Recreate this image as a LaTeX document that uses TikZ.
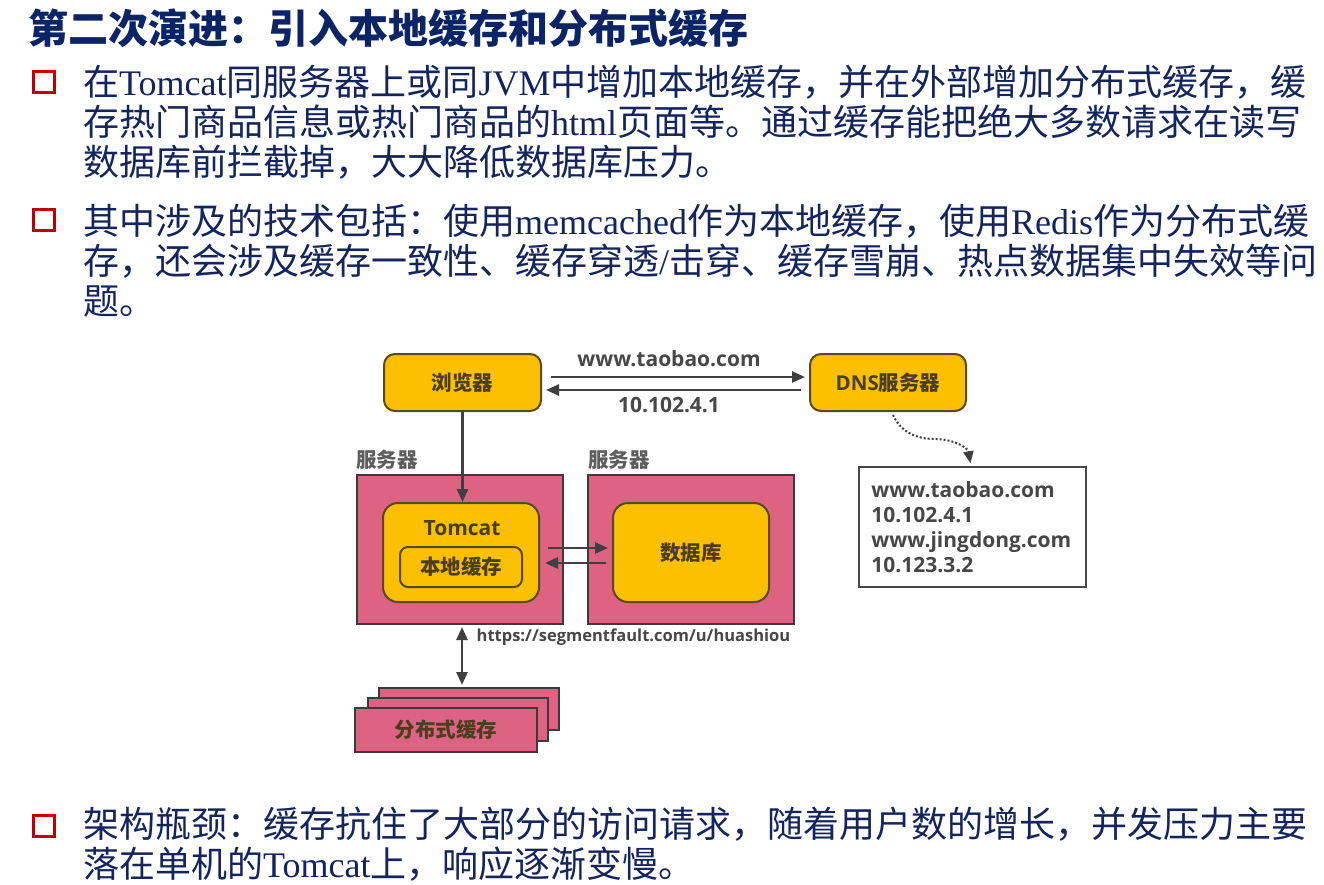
\documentclass[tikz,border=0pt]{standalone}
\usepackage{fontspec}
\setmainfont{Noto Sans CJK SC}
\newfontfamily\lat{Liberation Serif}
\newfontfamily\dsans{Open Sans}
\newcommand\lt[1]{{\lat #1}}
\usetikzlibrary{arrows.meta,calc}
\definecolor{navy}{HTML}{14245E}
\definecolor{titlec}{HTML}{0B2466}
\definecolor{bred}{HTML}{C00000}
\definecolor{amber}{HTML}{FBC002}
\definecolor{amberln}{HTML}{5A4820}
\definecolor{rose}{HTML}{DE6282}
\definecolor{roseln}{HTML}{3B3B3B}
\definecolor{dtext}{HTML}{474747}
\definecolor{btext}{HTML}{4B3D1E}
\definecolor{arr}{HTML}{404040}
\definecolor{slabel}{HTML}{5E5E5E}
\tikzset{
  body/.style={anchor=base west, inner sep=0pt, text=navy, font=\fontsize{36}{40}\selectfont},
  bulletbox/.style={draw=bred, line width=3pt, minimum size=21pt, inner sep=0pt},
  ybox/.style={draw=amberln, fill=amber, line width=2pt, rounded corners=11pt, inner sep=0pt, text=btext, font=\fontsize{20.5}{22}\selectfont\bfseries},
  pbox/.style={draw=roseln, fill=rose, line width=2pt, inner sep=0pt},
  arrow/.style={draw=arr, line width=2.5pt, -{Triangle[length=13pt,width=11pt]}},
  darrow/.style={draw=arr, line width=2.5pt, {Triangle[length=13pt,width=11pt]}-{Triangle[length=13pt,width=11pt]}},
  dotarrow/.style={draw=arr, line width=2pt, dotted, -{Triangle[length=12pt,width=10pt]}},
  dlabel/.style={inner sep=0pt, text=dtext, font=\fontsize{21}{23}\selectfont\dsans\bfseries},
  slab/.style={inner sep=0pt, text=slabel, font=\fontsize{20.5}{22}\selectfont\bfseries},
}
\begin{document}
\begin{tikzpicture}[x=1pt,y=-1pt]
\useasboundingbox[fill=white] (0,0) rectangle (1324,884);
% title
\node[anchor=base west, inner sep=0pt, text=titlec, font=\fontsize{40}{44}\selectfont\bfseries] (title) at (28,43) {第二次演进：引入本地缓存和分布式缓存};
% bullet 1
\node[bulletbox] (b1) at (43.5,82) {};
\node[body] (b1l1) at (83,95) {在\lt{Tomcat}同服务器上或同\lt{JVM}中增加本地缓存，并在外部增加分布式缓存，缓};
\node[body] (b1l2) at (83,135) {存热门商品信息或热门商品的\lt{html}页面等。通过缓存能把绝大多数请求在读写};
\node[body] (b1l3) at (83,175) {数据库前拦截掉，大大降低数据库压力。};
% bullet 2
\node[bulletbox] (b2) at (43.5,219.5) {};
\node[body] (b2l1) at (83,234) {其中涉及的技术包括：使用\lt{memcached}作为本地缓存，使用\lt{Redis}作为分布式缓};
\node[body] (b2l2) at (83,274) {存，还会涉及缓存一致性、缓存穿透\lt{/}击穿、缓存雪崩、热点数据集中失效等问};
\node[body] (b2l3) at (83,314) {题。};
% bullet 3
\node[bulletbox] (b3) at (43.5,825.5) {};
\node[body] (b3l1) at (83,837) {架构瓶颈：缓存抗住了大部分的访问请求，随着用户数的增长，并发压力主要};
\node[body] (b3l2) at (83,877) {落在单机的\lt{Tomcat}上，响应逐渐变慢。};

% diagram
\node[ybox, minimum width=157pt, minimum height=57pt] (browser) at (462.5,382.5) {浏览器};
\node[ybox, minimum width=156pt, minimum height=57pt] (dns) at (888,382.5) {{\dsans DNS}服务器};
\draw[arrow] ($(browser.east)+(9,-5.5)$) -- ($(dns.west)+(-4,-5.5)$);
\draw[arrow] ($(dns.west)+(-8,7.5)$) -- ($(browser.east)+(4,7.5)$);
\node[dlabel] (q) at (669,359) {www.taobao.com};
\node[dlabel] (a) at (669,405) {10.102.4.1};

\node[slab] (s1) at (387,460) {服务器};
\node[slab] (s2) at (619,460) {服务器};
\node[pbox, minimum width=206pt, minimum height=149pt] (lsrv) at (460,549.5) {};
\node[pbox, minimum width=206pt, minimum height=149pt] (rsrv) at (691,549.5) {};
\node[ybox, minimum width=156pt, minimum height=99pt, rounded corners=15pt] (tomcat) at (461,552.5) {};
\node[inner sep=0pt, text=btext, font=\fontsize{21}{23}\selectfont\dsans\bfseries] (tlab) at (462,528) {Tomcat};
\node[draw=amberln, line width=2pt, rounded corners=8pt, minimum width=122pt, minimum height=40pt, inner sep=0pt, text=btext, font=\fontsize{20.5}{22}\selectfont\bfseries] (lcache) at (461,567) {本地缓存};
\node[ybox, minimum width=156pt, minimum height=99pt, rounded corners=15pt] (db) at (691,552.5) {数据库};
\draw[arrow] (browser.south) -- (browser.south |- tomcat.north);
\draw[arrow] ($(tomcat.east)+(8,-4.5)$) -- ($(db.west)+(-4,-4.5)$);
\draw[arrow] ($(db.west)+(-6,10.5)$) -- ($(tomcat.east)+(5,10.5)$);
\node[dlabel, font=\fontsize{16.5}{18}\selectfont\dsans\bfseries] (url) at (633.5,637) {https://segmentfault.com/u/huashiou};

\node[pbox, minimum width=180pt, minimum height=42pt] (c3) at (469,709) {};
\node[pbox, minimum width=180pt, minimum height=43pt] (c2) at (458,719.5) {};
\node[pbox, minimum width=182pt, minimum height=44pt, text=btext, font=\fontsize{20.5}{22}\selectfont\bfseries] (c1) at (446,730) {分布式缓存};
\draw[darrow] ($(tomcat.south |- lsrv.south)+(1,2)$) -- ($(tomcat.south |- c3.north)+(1,-2)$);

\node[draw=dtext, fill=white, line width=1.5pt, minimum width=227pt, minimum height=120pt, inner sep=0pt] (memo) at (972.5,527) {};
\node[dlabel, anchor=west, align=left, font=\fontsize{21}{25}\selectfont\dsans\bfseries] (memotext) at ($(memo.west)+(13,0)$) {www.taobao.com\\10.102.4.1\\www.jingdong.com\\10.123.3.2};
\coordinate (bend) at (935,439);
\draw[dotarrow] ($(dns.south)+(5,3)$) to[out=-65,in=180] (bend) to[out=0,in=100] ($(memo.north)+(-2,-3)$);
\end{tikzpicture}
\end{document}
